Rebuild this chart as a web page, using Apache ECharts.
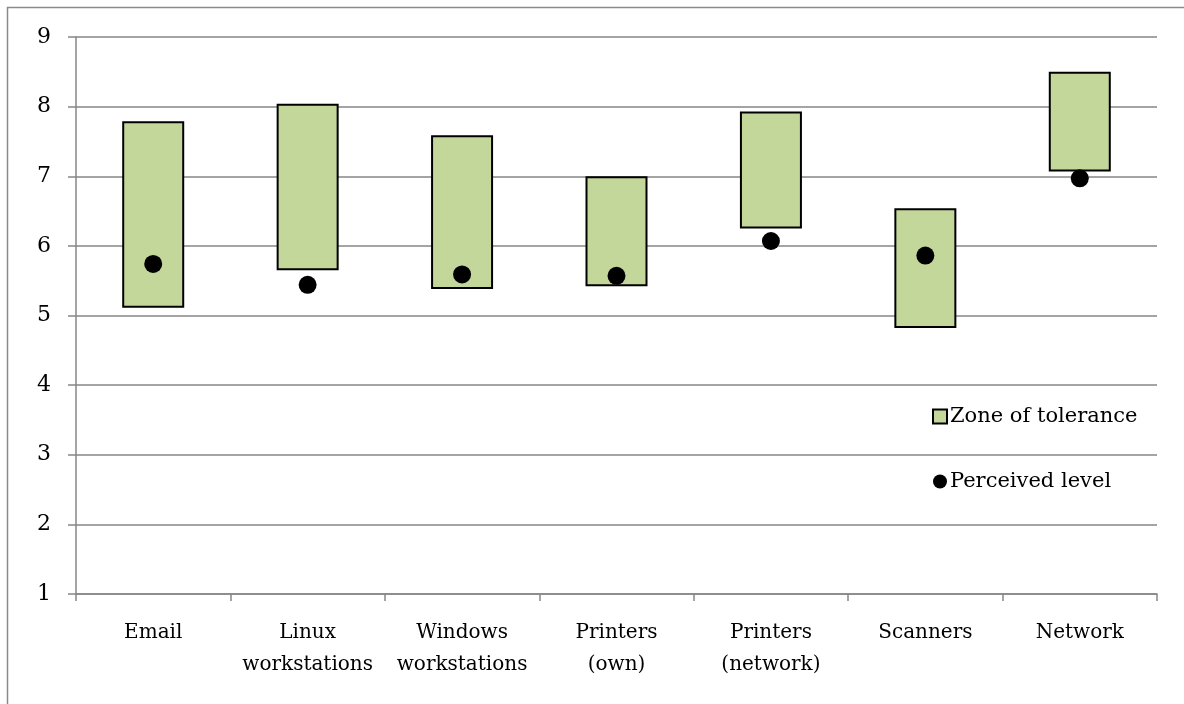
<!DOCTYPE html>
<html>
<head>
<meta charset="utf-8">
<script src="https://cdn.jsdelivr.net/npm/echarts@6/dist/echarts.min.js"></script>
<style>
  html, body { margin: 0; padding: 0; background: #fff; }
  #chart { width: 1184px; height: 704px; }
</style>
</head>
<body>
<div id="chart"></div>
<script>
// Service areas and their tolerance zones (lower/upper bounds) with the perceived level
const categories = ['Email', 'Linux\nworkstations', 'Windows\nworkstations', 'Printers\n(own)', 'Printers\n(network)', 'Scanners', 'Network'];
const zoneLow = [5.11, 5.65, 5.38, 5.42, 6.25, 4.82, 7.07];
const zoneHigh = [7.79, 8.04, 7.59, 7.00, 7.93, 6.54, 8.50];
const perceived = [5.74, 5.44, 5.59, 5.57, 6.07, 5.86, 6.97];
const yTicks = { min: 1, max: 9, step: 1 };

const FONT = 'DejaVu Serif';
const zoneSpan = zoneHigh.map((h, i) => +(h - zoneLow[i]).toFixed(2));

const chart = echarts.init(document.getElementById('chart'), null, { renderer: 'canvas' });
chart.setOption({
  animation: false,
  backgroundColor: '#ffffff',
  textStyle: { fontFamily: FONT, color: '#000' },
  graphic: [{
    type: 'rect',
    shape: { x: 7.5, y: 7.5, width: 1200, height: 720 },
    style: { fill: 'none', stroke: '#8a8a8a', lineWidth: 1.5 },
    silent: true,
    z: -10
  }],
  grid: { left: 76, right: 27, top: 37, bottom: 110, containLabel: false },
  legend: {
    data: [
      { name: 'Zone of tolerance', icon: 'rect' },
      { name: 'Perceived level', icon: 'circle' }
    ],
    orient: 'vertical',
    left: 927,
    top: 401,
    itemWidth: 14,
    itemHeight: 14,
    itemGap: 44,
    textStyle: { fontFamily: FONT, fontSize: 21, color: '#000', padding: [0, 0, 0, -2] },
    selectedMode: false
  },
  xAxis: {
    type: 'category',
    data: categories,
    boundaryGap: true,
    axisLine: { lineStyle: { color: '#868686', width: 1.5 } },
    axisTick: { show: true, length: 7, lineStyle: { color: '#868686', width: 1.5 } },
    axisLabel: { fontFamily: FONT, fontSize: 20, color: '#000', margin: 23, lineHeight: 32, interval: 0 },
    splitLine: { show: false }
  },
  yAxis: {
    type: 'value',
    min: yTicks.min,
    max: yTicks.max,
    interval: yTicks.step,
    axisLine: { show: true, lineStyle: { color: '#868686', width: 1.5 } },
    axisTick: { show: true, length: 8, lineStyle: { color: '#868686', width: 1.5 } },
    axisLabel: { fontFamily: FONT, fontSize: 22, color: '#000', margin: 25 },
    splitLine: { show: true, lineStyle: { color: '#868686', width: 1.5 } }
  },
  series: [
    {
      name: 'base',
      type: 'bar',
      stack: 'zone',
      data: zoneLow,
      barWidth: 62,
      itemStyle: { color: 'transparent' },
      silent: true
    },
    {
      name: 'Zone of tolerance',
      type: 'bar',
      stack: 'zone',
      data: zoneSpan,
      barWidth: 62,
      itemStyle: { color: '#c4d79b', borderColor: '#000', borderWidth: 2 }
    },
    {
      name: 'Perceived level',
      type: 'scatter',
      data: perceived,
      symbol: 'circle',
      symbolSize: 18,
      itemStyle: { color: '#000', opacity: 1 },
      z: 5
    }
  ]
});
</script>
</body>
</html>
